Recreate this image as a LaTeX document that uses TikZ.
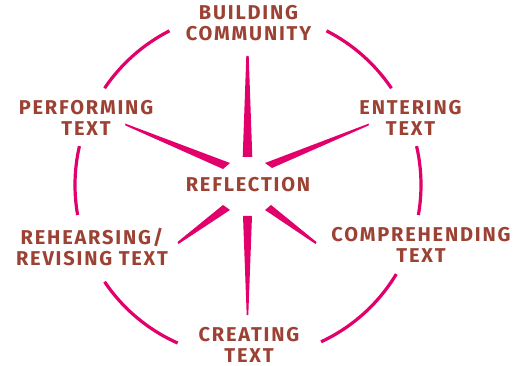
\documentclass[tikz,border=0pt]{standalone}
\usepackage{fontspec}
\setmainfont{Fira Sans}[LetterSpace=9]
\definecolor{txt}{RGB}{156,66,52}
\definecolor{pinkc}{RGB}{226,0,107}
\begin{document}
\begin{tikzpicture}[x=1pt,y=-1pt,
  lab/.style={text=txt,font=\fontsize{20}{21}\selectfont\bfseries,align=center,inner sep=0pt},
  ring/.style={draw=pinkc,line width=3.2pt},
  spike/.style={fill=pinkc,draw=none}]
\useasboundingbox (0,0) rectangle (514,366);
% ring arcs
\foreach \a/\b in {-146/-117,-190/-167,-246/-214,31/65,-13/10,-63/-34}
  \draw[ring] (248,185) ++(\a:173) arc[start angle=\a,end angle=\b,radius=173];
% spikes
\fill[spike] (246.3,56) -- (248.7,56) -- (252.3,157) -- (242.7,157) -- cycle;
\fill[spike] (243,216) -- (252,216) -- (248.3,315) -- (246.7,315) -- cycle;
\fill[spike] (125,123.5) -- (125.5,125.5) -- (223,169) -- (230,163) -- cycle;
\fill[spike] (369,123.5) -- (368.5,125.5) -- (272,168) -- (265,163) -- cycle;
\fill[spike] (177.5,242) -- (178.5,244) -- (230,210) -- (223,205) -- cycle;
\fill[spike] (316.5,242) -- (315.5,244) -- (265,210) -- (271,205) -- cycle;
% labels
\node[lab] (bc) at (248.5,23.5) {BUILDING\\COMMUNITY};
\node[lab] (pt) at (86,117.5) {PERFORMING\\TEXT};
\node[lab] (et) at (410.5,117.5) {ENTERING\\TEXT};
\node[lab] (rf) at (248,185) {REFLECTION};
\node[lab] (rr) at (92,247) {REHEARSING/\\REVISING TEXT};
\node[lab] (ct) at (421,244.5) {COMPREHENDING\\TEXT};
\node[lab] (cr) at (249,344.5) {CREATING\\TEXT};
\end{tikzpicture}
\end{document}
